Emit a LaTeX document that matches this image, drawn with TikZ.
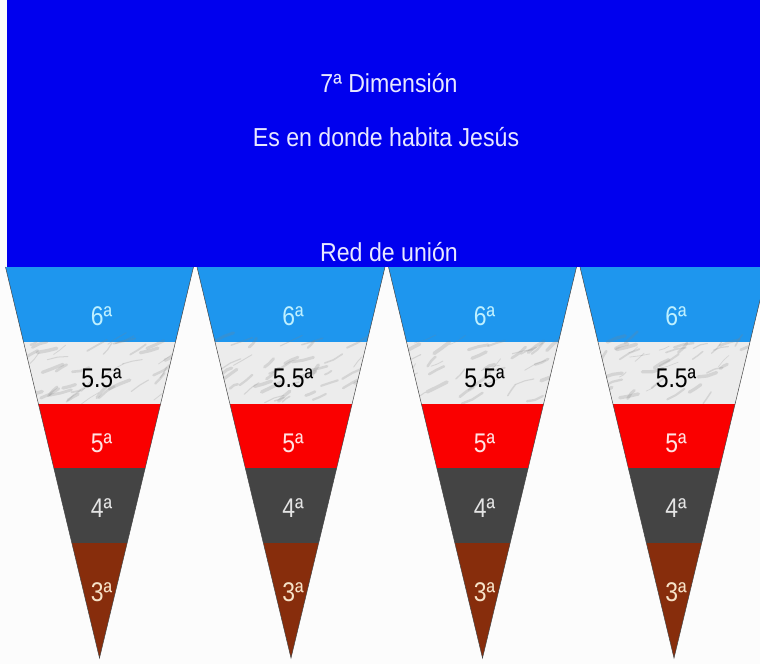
\documentclass[tikz,border=0pt]{standalone}
\usepackage{fontspec}
\setmainfont{Liberation Sans}
\newfontfamily\labfont{Liberation Sans}[FakeStretch=0.85]
\newfontfamily\headfont{Liberation Sans}[FakeStretch=0.89]
\definecolor{bgwhite}{RGB}{252,252,252}
\definecolor{topblue}{RGB}{0,0,238}
\definecolor{sixblue}{RGB}{30,150,238}
\definecolor{fivered}{RGB}{250,0,0}
\definecolor{fourgray}{RGB}{68,68,68}
\definecolor{threebrown}{RGB}{135,45,12}
\definecolor{marble}{RGB}{236,236,236}
\definecolor{marblevein}{RGB}{130,130,130}
\definecolor{headtxt}{RGB}{232,232,255}
\definecolor{sixtxt}{RGB}{190,240,255}
\definecolor{fivetxt}{RGB}{255,226,226}
\definecolor{fourtxt}{RGB}{228,228,228}
\definecolor{threetxt}{RGB}{246,226,200}
\definecolor{edgecol}{RGB}{70,70,70}
\tikzset{
  headtext/.style={font=\headfont\fontsize{26}{30}\selectfont, text=headtxt, anchor=base, inner sep=0pt},
  labtext/.style={font=\labfont\fontsize{27}{30}\selectfont, anchor=base, inner sep=0pt},
  coneedge/.style={draw=edgecol, line width=0.5pt},
  vein/.style={draw=marblevein, opacity=0.22, line cap=round, line join=round}
}
\begin{document}
\begin{tikzpicture}[x=1pt,y=-1pt]
\useasboundingbox (0,0) rectangle (760,664);
\clip (0,0) rectangle (760,664);
\fill[bgwhite] (0,0) rectangle (760,664);
\fill[topblue] (7,0) rectangle (760,267);
\node[headtext] (dim7) at (389,92) {7ª Dimensión};
\node[headtext] (jesus) at (386,146) {Es en donde habita Jesús};
\node[headtext] (red) at (389,261) {Red de unión};
\foreach \c [count=\k] in {99.5,291,482.5,674} {
  \begin{scope}
    \clip (\c-94,267) -- (\c+94,267) -- (\c,658) -- cycle;
    \fill[sixblue] (\c-100,266) rectangle (\c+100,342);
    \fill[marble] (\c-100,342) rectangle (\c+100,404);
    \pgfmathsetseed{\k*17}
    \foreach \j in {1,...,45} {
      \pgfmathsetmacro\xx{\c-88+176*rnd}
      \pgfmathsetmacro\yy{342+62*rnd}
      \pgfmathsetmacro\dx{6+16*rnd}
      \pgfmathsetmacro\dy{-3-9*rnd}
      \pgfmathsetmacro\ex{-4+8*rnd}
      \pgfmathsetmacro\lw{0.6+3*rnd}
      \draw[vein, line width=\lw pt] (\xx,\yy) -- (\xx+\dx/2,\yy+\dy/2+\ex/3) -- (\xx+\dx,\yy+\dy);
    }
    \fill[fivered] (\c-100,404) rectangle (\c+100,468);
    \fill[fourgray] (\c-100,468) rectangle (\c+100,543);
    \fill[threebrown] (\c-100,543) rectangle (\c+100,660);
  \end{scope}
  \draw[coneedge] (\c-94,267) -- (\c,658) -- (\c+94,267);
  \node[labtext, text=sixtxt] (six\k) at (\c+2,325) {6ª};
  \node[labtext, text=black] (fivehalf\k) at (\c+2,387) {5.5ª};
  \node[labtext, text=fivetxt] (five\k) at (\c+2,452) {5ª};
  \node[labtext, text=fourtxt] (four\k) at (\c+2,517) {4ª};
  \node[labtext, text=threetxt] (three\k) at (\c+2,601) {3ª};
}
\end{tikzpicture}
\end{document}
